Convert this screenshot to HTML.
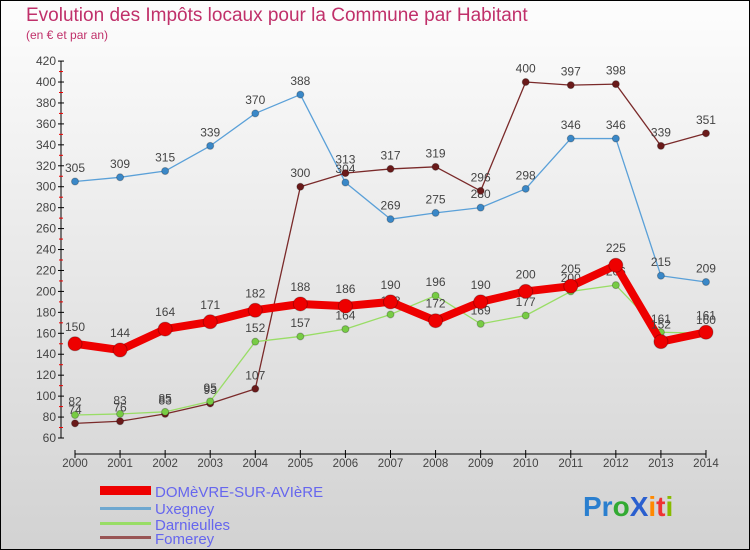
<!DOCTYPE html>
<html><head><meta charset="utf-8"><style>
body{margin:0;width:750px;height:550px;overflow:hidden;font-family:"Liberation Sans",sans-serif}
svg{display:block}
</style></head><body>
<svg id="c" width="750" height="550" xmlns="http://www.w3.org/2000/svg">
<defs><linearGradient id="bg" x1="0" y1="0" x2="0" y2="1"><stop offset="0" stop-color="#fdfdfd"/><stop offset="1" stop-color="#d2d2d2"/></linearGradient></defs>
<rect x="0.5" y="0.5" width="749" height="549" fill="url(#bg)" stroke="#000"/>
<text x="26" y="21" font-size="19" fill="#c0306a">Evolution des Impôts locaux pour la Commune par Habitant</text>
<text x="26" y="39" font-size="12" fill="#c0306a">(en € et par an)</text>
<g id="axes"></g><g id="series"></g>
<g>
<rect x="100" y="486" width="51" height="9" fill="#ee0000"/>
<text x="155" y="497" font-size="15" fill="#6666ee">DOMèVRE-SUR-AVIèRE</text>
<rect x="100" y="507" width="51" height="3" fill="#6fa8d0"/>
<text x="155" y="514" font-size="15" fill="#6666ee">Uxegney</text>
<rect x="100" y="522" width="51" height="3" fill="#99dd66"/>
<text x="155" y="530" font-size="15" fill="#6666ee">Darnieulles</text>
<rect x="100" y="536" width="51" height="3" fill="#995555"/>
<text x="155" y="544" font-size="15" fill="#6666ee">Fomerey</text>
</g>
<g font-size="28" font-weight="bold">
<text x="583" y="516"><tspan fill="#2a7fcf">Pr</tspan><tspan fill="#33aa33">o</tspan><tspan fill="#2a5fcf">X</tspan><tspan fill="#ff8800">i</tspan><tspan fill="#ee3333">t</tspan><tspan fill="#88bb00">i</tspan></text>
</g>
</svg>
<script>
const years=[2000,2001,2002,2003,2004,2005,2006,2007,2008,2009,2010,2011,2012,2013,2014];
const yTicks=[60,80,100,120,140,160,180,200,220,240,260,280,300,320,340,360,380,400,420];
const domevre=[150,144,164,171,182,188,186,190,172,190,200,205,225,152,161];
const uxegney=[305,309,315,339,370,388,304,269,275,280,298,346,346,215,209];
const darnieulles=[82,83,85,95,152,157,164,178,196,169,177,200,206,161,160];
const fomerey=[74,76,83,93,107,300,313,317,319,296,400,397,398,339,351];
const NS='http://www.w3.org/2000/svg';
const X=i=>75+i*45.07, Y=v=>438-(v-60)*1.047;
function mk(t,a,p){const e=document.createElementNS(NS,t);for(const k in a)e.setAttribute(k,a[k]);p.appendChild(e);return e;}
const ax=document.getElementById('axes');
const yl=mk('line',{x1:61,y1:61,x2:61,y2:438,stroke:'#000'},ax);


const xl=mk('line',{x1:75,y1:454,x2:706,y2:454,stroke:'#000'},ax);


yTicks.forEach((v,i)=>{
 mk('line',{x1:58,x2:64,y1:Y(v),y2:Y(v),stroke:'#000'},ax);
 if(i<yTicks.length-1) mk('line',{x1:59,x2:63,y1:Y(v+10),y2:Y(v+10),stroke:'#e00'},ax);
 const t=mk('text',{x:56,y:Y(v)+4,'text-anchor':'end','font-size':12,fill:'#444'},ax);
 t.textContent=v;
 
 
});
years.forEach((yr,i)=>{
 mk('line',{x1:X(i),x2:X(i),y1:450,y2:458,stroke:'#000'},ax);
 const t=mk('text',{x:X(i),y:467,'text-anchor':'middle','font-size':11.5,fill:'#444'},ax);
 t.textContent=yr;
 
 
});
const sg=document.getElementById('series');
function series(data,name,col,dot,w,r){
 const g=mk('g',{},sg);
 
 
 mk('polyline',{points:data.map((v,i)=>X(i)+','+Y(v)).join(' '),fill:'none',stroke:col,'stroke-width':w,'stroke-linejoin':'round'},g);
 data.forEach((v,i)=>{
  const c=mk('circle',{cx:X(i),cy:Y(v),r:r,fill:dot,stroke:'rgba(0,0,0,0.25)'},g);
  
  
  const t=mk('text',{x:X(i),y:Y(v)-r-6,'text-anchor':'middle','font-size':12,fill:'#444'},g);
  t.textContent=v;
  
  
 });
}
series(uxegney,'uxegney','#5aa0d8','#3a88c8',1.3,3.5);
series(fomerey,'fomerey','#7a2a2a','#6a1a1a',1.3,3.5);
series(darnieulles,'darnieulles','#99dd66','#77cc44',1.3,3.5);
series(domevre,'domevre','#ee0000','#ee0000',8,7);
</script>
</body></html>
